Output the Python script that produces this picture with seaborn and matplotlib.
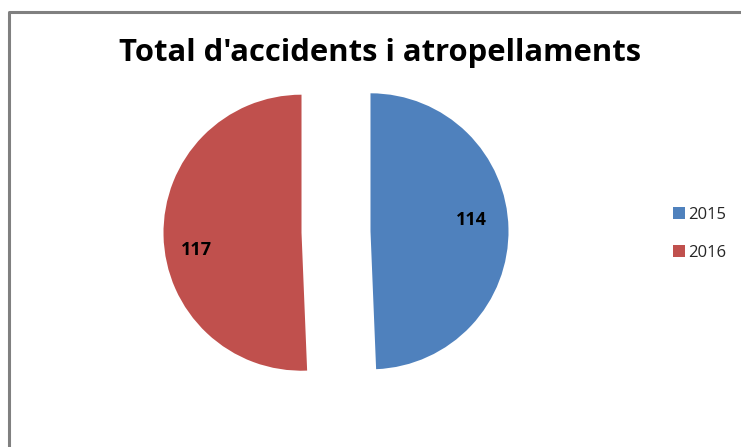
import matplotlib
matplotlib.use("Agg")
import matplotlib.pyplot as plt
from matplotlib.lines import Line2D
import seaborn as sns

years = ["2015", "2016"]
totals = [114, 117]
colors = ["#4F81BD", "#C0504D"]
title = "Total d'accidents i atropellaments"

sns.set_theme(style="white")
plt.rcParams['font.family'] = ['Open Sans', 'DejaVu Sans']

W, H = 741, 447
fig = plt.figure(figsize=(W / 100, H / 100), dpi=100)

R = 138.0
cx, cy = 336.0, 447 - 232.0
xl, yl = 1.6, 1.3
ax = fig.add_axes([(cx - xl * R) / W, (cy - yl * R) / H, 2 * xl * R / W, 2 * yl * R / H])

wedges, texts, autotexts = ax.pie(
    totals, colors=colors, startangle=90, counterclock=False,
    explode=[0.25, 0.25], radius=1.0,
    autopct=lambda p: f"{round(p * sum(totals) / 100):d}",
    pctdistance=0.73, wedgeprops=dict(linewidth=0),
    textprops=dict(fontsize=13, fontweight="bold", color="black"),
)
# Excel-like label placement nudges
nudges = [(0.0, 0.07), (-0.03, -0.11)]
for t, (dx, dy) in zip(autotexts, nudges):
    x, y = t.get_position()
    t.set_position((x + dx, y + dy))

ax.set_xlim(-xl, xl)
ax.set_ylim(-yl, yl)
ax.set_aspect("equal")
ax.axis("off")

fig.text(380 / W, 1 - 53 / H, title, ha="center", va="center",
         fontsize=22.3, fontweight="bold", color="black")

handles = [Line2D([], [], marker="s", linestyle="none", markersize=9,
                  markerfacecolor=c, markeredgewidth=0) for c in colors]
fig.legend(handles, years, loc="center left", bbox_to_anchor=(656 / W, 1 - 234 / H),
           frameon=False, fontsize=12, handletextpad=0.0, labelspacing=1.3,
           handlelength=1.0)

# chart border (partially visible)
border = Line2D([8.5 / W, 8.5 / W, 1.0], [0.0, 1 - 11.5 / H, 1 - 11.5 / H],
                transform=fig.transFigure, color="#808080", linewidth=2.2)
fig.add_artist(border)

fig.savefig("out.png", dpi=100, facecolor="white")
